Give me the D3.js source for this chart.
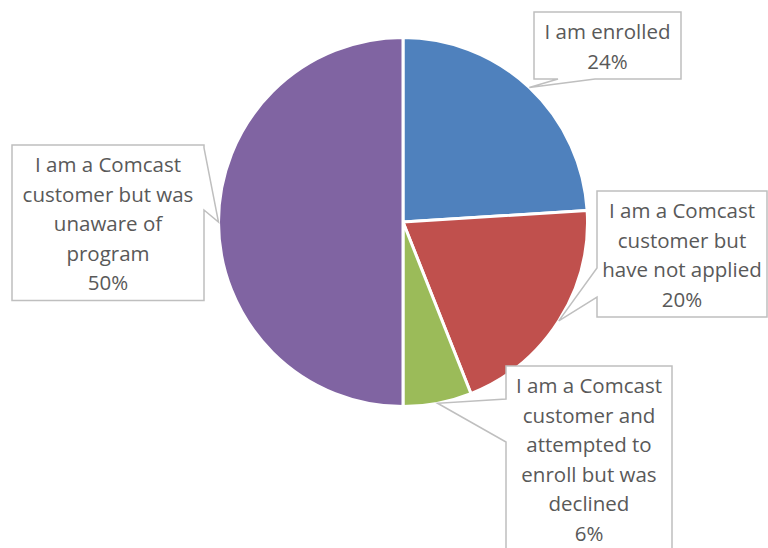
<!DOCTYPE html>
<html><head><meta charset="utf-8">
<script src="https://cdn.jsdelivr.net/npm/d3@7"></script>
<style>html,body{margin:0;padding:0;background:#fff;}</style>
</head><body>
<svg id="chart" width="768" height="548"></svg>
<script>
const categories = ["I am enrolled", "I am a Comcast customer but have not applied", "I am a Comcast customer and attempted to enroll but was declined", "I am a Comcast customer but was unaware of program"];
const values = [24, 20, 6, 50];
const labelLines = [
  ["I am enrolled"],
  ["I am a Comcast", "customer but", "have not applied"],
  ["I am a Comcast", "customer and", "attempted to", "enroll but was", "declined"],
  ["I am a Comcast", "customer but was", "unaware of", "program"]
];
const colors = ["#4F81BD", "#C0504D", "#9BBB59", "#8064A2"];

// layout
const cx = 403, cy = 222, r = 184.5;
const lineH = 29.5;
const boxes = [
  {x0: 534, y0: 12, w: 147, side: "bottom", base: [558, 595]},
  {x0: 597, y0: 191, w: 170, side: "left", base: [268, 297]},
  {x0: 506, y0: 366, w: 166, side: "left", base: [399, 442]},
  {x0: 12, y0: 145, w: 192, side: "right", base: [148, 210]}
];

const svg = d3.select("#chart");
const g = svg.append("g").attr("transform", `translate(${cx},${cy})`);
const pie = d3.pie().sort(null).value(d => d);
const arcs = pie(values);
const arc = d3.arc().innerRadius(0).outerRadius(r);

g.selectAll("path.slice").data(arcs).enter().append("path")
  .attr("class", "slice")
  .attr("d", arc)
  .attr("fill", (d, i) => colors[i])
  .attr("stroke", "#fff")
  .attr("stroke-width", 3)
  .attr("stroke-linejoin", "round");

const fmt = d3.format(".0%");
const total = d3.sum(values);

arcs.forEach((d, i) => {
  const b = boxes[i];
  const lines = labelLines[i].concat([fmt(values[i] / total)]);
  const h = lines.length * lineH + 8;
  const x0 = b.x0, y0 = b.y0, x1 = b.x0 + b.w, y1 = b.y0 + h;
  const a = (d.startAngle + d.endAngle) / 2;
  const tx = cx + r * Math.sin(a), ty = cy - r * Math.cos(a);
  const p = d3.path();
  if (b.side === "bottom") {
    p.moveTo(x0, y0); p.lineTo(x1, y0); p.lineTo(x1, y1);
    p.lineTo(b.base[1], y1); p.lineTo(tx, ty); p.lineTo(b.base[0], y1);
    p.lineTo(x0, y1); p.closePath();
  } else if (b.side === "left") {
    p.moveTo(x0, y0); p.lineTo(x1, y0); p.lineTo(x1, y1); p.lineTo(x0, y1);
    p.lineTo(x0, b.base[1]); p.lineTo(tx, ty); p.lineTo(x0, b.base[0]);
    p.closePath();
  } else {
    p.moveTo(x0, y0); p.lineTo(x1, y0); p.lineTo(x1, b.base[0]);
    p.lineTo(tx, ty); p.lineTo(x1, b.base[1]); p.lineTo(x1, y1);
    p.lineTo(x0, y1); p.closePath();
  }
  svg.append("path").attr("d", p.toString())
    .attr("fill", "#fff").attr("stroke", "#BFBFBF").attr("stroke-width", 1.5)
    .attr("stroke-linejoin", "miter");
  const t = svg.append("text")
    .attr("x", (x0 + x1) / 2)
    .attr("text-anchor", "middle")
    .attr("font-family", "'Open Sans', Lato, sans-serif")
    .attr("font-size", 20.5)
    .attr("fill", "#595959");
  lines.forEach((ln, k) => {
    t.append("tspan").attr("x", (x0 + x1) / 2).attr("y", y0 + 27 + k * lineH).text(ln);
  });
});
</script>
</body></html>
